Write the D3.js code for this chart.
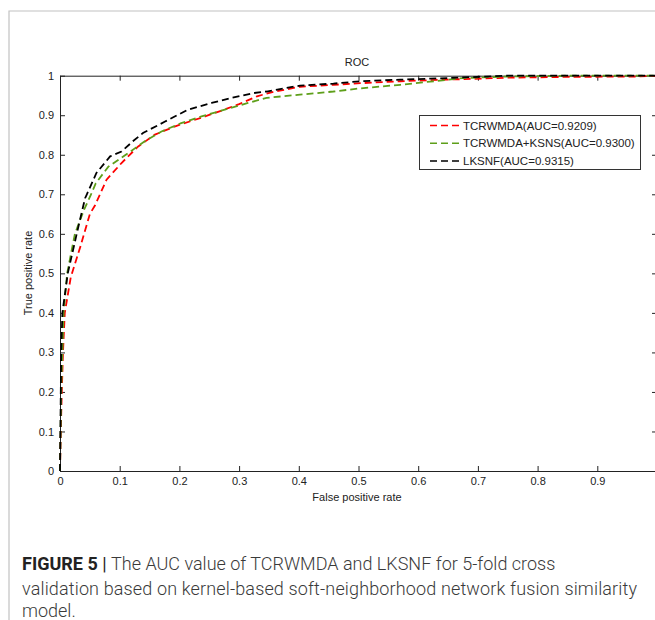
<!DOCTYPE html>
<html lang="en">
  <head>
    <meta charset="utf-8">
    <title>ROC</title>
    <script src="https://d3js.org/d3.v7.min.js"></script>
    <style>
      body { margin: 0; background: #fff; }
    </style>
  </head>
  <body>
    <script type="text/javascript">
      // ROC curves: [false positive rate, true positive rate]
      const redPoints = [[0,0],[0.001,0.08],[0.003,0.2],[0.005,0.3],[0.008,0.4],[0.018,0.49],[0.034,0.567],
        [0.05,0.65],[0.059,0.673],[0.078,0.737],[0.103,0.779],[0.131,0.821],[0.159,0.851],[0.193,0.872],
        [0.243,0.897],[0.271,0.912],[0.30,0.928],[0.33,0.948],[0.36,0.96],[0.402,0.972],[0.458,0.977],
        [0.503,0.981],[0.57,0.986],[0.648,0.99],[0.75,0.995],[0.85,0.997],[0.97,0.998],[1,1]];
      const greenPoints = [[0,0],[0.001,0.1],[0.002,0.2],[0.004,0.3],[0.006,0.4],[0.012,0.5],[0.025,0.6],
        [0.04,0.66],[0.052,0.7],[0.06,0.728],[0.081,0.77],[0.114,0.804],[0.142,0.834],[0.17,0.859],
        [0.203,0.88],[0.237,0.897],[0.276,0.914],[0.315,0.931],[0.346,0.944],[0.402,0.952],[0.458,0.96],
        [0.503,0.968],[0.57,0.977],[0.62,0.985],[0.675,0.994],[0.748,0.998],[0.85,1],[1,1]];
      const blackPoints = [[0,0],[0.001,0.15],[0.002,0.3],[0.004,0.4],[0.013,0.5],[0.028,0.6],[0.042,0.69],
        [0.045,0.7],[0.061,0.754],[0.084,0.796],[0.103,0.808],[0.122,0.834],[0.139,0.855],[0.176,0.884],
        [0.214,0.914],[0.254,0.931],[0.288,0.944],[0.324,0.956],[0.346,0.96],[0.402,0.975],[0.458,0.98],
        [0.503,0.986],[0.57,0.99],[0.648,0.994],[0.75,1],[1,1]];

      const seriesNames = ["TCRWMDA(AUC=0.9209)", "TCRWMDA+KSNS(AUC=0.9300)", "LKSNF(AUC=0.9315)"];
      const seriesColors = ["#ff0000", "#5e9f1a", "#000000"];
      const xTicks = [0, 0.1, 0.2, 0.3, 0.4, 0.5, 0.6, 0.7, 0.8, 0.9, 1];
      const yTicks = [0, 0.1, 0.2, 0.3, 0.4, 0.5, 0.6, 0.7, 0.8, 0.9, 1];
      const captionLines = [
        "The AUC value of TCRWMDA and LKSNF for 5-fold cross",
        "validation based on kernel-based soft-neighborhood network fusion similarity",
        "model."
      ];

      const svgWidth = 655;
      const svgHeight = 620;
      const font = "'Liberation Sans', Arial, sans-serif";
      const plotLeft = 60, plotRight = 657, plotTop = 75.7, plotBottom = 471;

      const svg = d3.select("body")
        .append("svg")
        .attr("width", svgWidth)
        .attr("height", svgHeight);

      // figure frame (gray)
      svg.append("path")
        .attr("d", "M9,620 L9,11 L655,11")
        .attr("fill", "none")
        .attr("stroke", "#c2c2c2")
        .attr("stroke-width", 1.2);

      const xScale = d3.scaleLinear().domain([0, 1]).range([plotLeft, plotRight]);
      const yScale = d3.scaleLinear().domain([0, 1]).range([plotBottom, plotTop]);

      const fmt = d => d3.format("")(+d.toFixed(1));

      function styleAxis(g) {
        g.selectAll("path.domain").attr("stroke", "#222").attr("stroke-width", 1);
        g.selectAll(".tick line").attr("stroke", "#222");
        g.selectAll("text").attr("font-family", font).attr("font-size", "11px").attr("fill", "#222");
      }

      svg.append("g")
        .attr("transform", `translate(0,${plotBottom})`)
        .call(d3.axisBottom(xScale).tickValues(xTicks.slice(0, -1)).tickFormat(fmt).tickSize(-5).tickSizeOuter(0).tickPadding(6))
        .call(styleAxis);
      svg.append("g")
        .attr("transform", `translate(0,${plotTop})`)
        .call(d3.axisTop(xScale).tickValues(xTicks).tickFormat("").tickSize(-5).tickSizeOuter(0))
        .call(styleAxis);
      svg.append("g")
        .attr("transform", `translate(${plotLeft},0)`)
        .call(d3.axisLeft(yScale).tickValues(yTicks).tickFormat(fmt).tickSize(-5).tickSizeOuter(0).tickPadding(6))
        .call(styleAxis);
      svg.append("g")
        .attr("transform", `translate(${plotRight},0)`)
        .call(d3.axisRight(yScale).tickValues(yTicks).tickFormat("").tickSize(-5).tickSizeOuter(0))
        .call(styleAxis);

      const line = d3.line()
        .x(d => xScale(d[0]))
        .y(d => yScale(d[1]));

      [redPoints, greenPoints, blackPoints].forEach((pts, i) => {
        svg.append("path")
          .datum(pts)
          .attr("d", line)
          .attr("fill", "none")
          .attr("stroke", seriesColors[i])
          .attr("stroke-width", 1.8)
          .attr("stroke-dasharray", "7,4");
      });

      // title and axis labels
      svg.append("text")
        .attr("x", 357).attr("y", 66)
        .attr("text-anchor", "middle")
        .attr("font-family", font).attr("font-size", "11px").attr("fill", "#222")
        .text("ROC");
      svg.append("text")
        .attr("x", 357).attr("y", 501)
        .attr("text-anchor", "middle")
        .attr("font-family", font).attr("font-size", "11px").attr("fill", "#222")
        .text("False positive rate");
      svg.append("text")
        .attr("transform", "translate(32,273) rotate(-90)")
        .attr("text-anchor", "middle")
        .attr("font-family", font).attr("font-size", "11px").attr("fill", "#222")
        .text("True positive rate");

      // legend
      const legend = svg.append("g");
      legend.append("rect")
        .attr("x", 419.5).attr("y", 115.5)
        .attr("width", 221).attr("height", 54)
        .attr("fill", "#fff")
        .attr("stroke", "#333");
      seriesNames.forEach((name, i) => {
        const y = 125.5 + i * 17.8;
        legend.append("line")
          .attr("x1", 430).attr("x2", 462)
          .attr("y1", y).attr("y2", y)
          .attr("stroke", seriesColors[i])
          .attr("stroke-width", 1.5)
          .attr("stroke-dasharray", "7,4");
        legend.append("text")
          .attr("x", 463).attr("y", y + 4)
          .attr("font-family", font).attr("font-size", "11.5px").attr("fill", "#222")
          .text(name);
      });

      // caption
      const cap = svg.append("g")
        .attr("font-family", "Roboto, 'Liberation Sans', sans-serif")
        .attr("font-size", "18px")
        .attr("fill", "#3a3a3a");
      const first = cap.append("text").attr("x", 22).attr("y", 570);
      first.append("tspan").attr("font-weight", "bold").attr("fill", "#222").text("FIGURE 5");
      first.append("tspan").attr("fill", "#222").text(" | ");
      first.append("tspan").attr("font-weight", 300).text(captionLines[0]);
      cap.append("text").attr("x", 22).attr("y", 595).attr("font-weight", 300)
        .attr("textLength", 615).attr("lengthAdjust", "spacing").text(captionLines[1]);
      cap.append("text").attr("x", 22).attr("y", 617).attr("font-weight", 300).text(captionLines[2]);
    </script>
  </body>
</html>
